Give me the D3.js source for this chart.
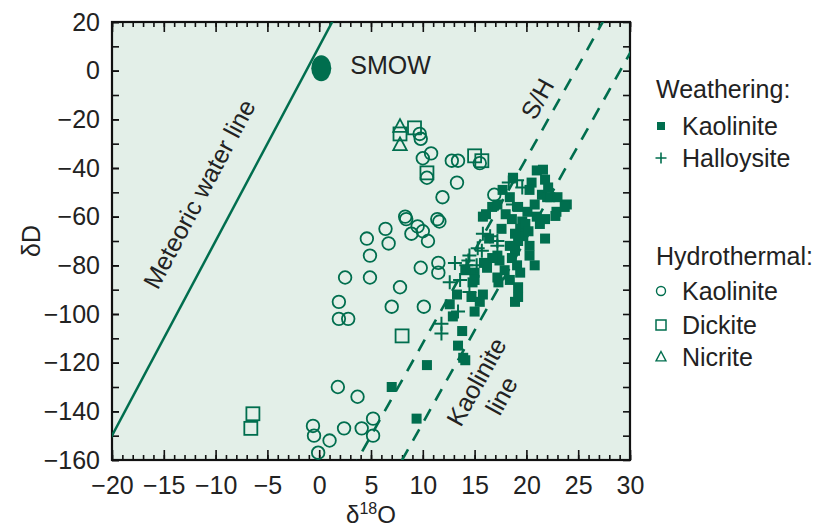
<!DOCTYPE html>
<html>
<head>
<meta charset="utf-8">
<script src="https://d3js.org/d3.v7.min.js"></script>
<style>
  body { margin: 0; background: #fff; }
  text { font-family: "Liberation Sans", Arial, sans-serif; fill: #222; }
</style>
</head>
<body>
<div id="chart"></div>
<script>
// weathering kaolinite (filled squares) [d18O, dD]
const weathKaolinite = [
  [21.6,-40.7],[21.0,-41],[21.8,-44.8],[18.7,-44],[20.5,-46],[20.3,-49],[21.5,-51],[18.4,-52],
  [16.7,-56],[17.2,-55],[15.8,-60],[18.0,-59],[18.6,-61],[19.2,-56],[20.1,-58],[20.8,-55],
  [22.0,-52],[22.3,-52],[23.0,-52],[23.9,-55],[22.9,-58],[21.8,-61],[21.0,-60],[19.6,-62],
  [19.4,-65],[19.7,-68],[19.2,-70],[21.8,-69],[18.9,-74],[18.6,-77],[19.1,-80],[20.8,-80],
  [19.4,-83],[19.2,-89],[17.2,-76],[17.4,-78],[16.7,-77],[16.2,-81],[17.2,-85],[17.3,-87],
  [15.0,-83],[14.8,-87],[15.8,-92],[18.9,-95],[14.1,-82],[15.0,-86],[14.7,-93],[13.3,-92],
  [15.5,-95],[15.0,-99],[13.8,-107],[13.4,-113],[13.9,-118],[14.1,-119],[10.4,-121],[9.4,-143],
  [7.0,-130],[22.8,-59.7],[23.7,-56],[15.9,-79],[12.6,-96],[19.9,-63],[20.2,-66],[18.9,-67],
  [18.4,-72],[17.9,-82],[18.4,-86],[20.3,-72],[21.3,-63],[22.1,-48],[17.7,-49],[16.4,-69],
  [19.2,-93],[20.3,-76],[17.6,-65],[16.1,-59],[12.9,-101]
];
// weathering halloysite (crosses)
const weathHalloysite = [
  [19.1,-45],[19.6,-48],[18.7,-55],[15.8,-67],[16.5,-68],[17.2,-70],[15.7,-74],[17.2,-72],
  [14.5,-76],[14.2,-80],[14.5,-91],[13.1,-79],[14.4,-78],[15.2,-80],[12.6,-87],[13.6,-86],
  [13.4,-99],[11.8,-104],[11.8,-108],[18.3,-46],[15.3,-73]
];
// hydrothermal kaolinite (open circles)
const hydroKaolinite = [
  [9.7,-26],[9.8,-28],[10.0,-36],[10.8,-34],[12.8,-37],[13.4,-37],[15.5,-38],[13.3,-46],
  [11.9,-52],[10.4,-44],[8.3,-60],[11.4,-61],[16.9,-51],[8.4,-61],[6.4,-65],[4.6,-69],
  [6.7,-71],[8.9,-67],[9.5,-64],[10.0,-66],[10.5,-70],[11.6,-62],[4.9,-76],[2.5,-85],
  [4.9,-85],[7.8,-89],[9.8,-81],[11.5,-79],[11.5,-83],[1.9,-95],[1.9,-102],[2.8,-102],
  [7.0,-97],[10.1,-97],[1.8,-130],[3.7,-134],[5.2,-143],[4.1,-147],[5.2,-150],[2.4,-147],
  [1.0,-152],[-0.6,-146],[-0.5,-150],[-0.1,-157]
];
// hydrothermal dickite (open squares)
const hydroDickite = [
  [9.2,-23.5],[7.8,-26],[10.4,-42],[15.0,-35],[15.7,-37],[8.0,-109],[-6.4,-141],[-6.6,-147]
];
// hydrothermal nacrite (open triangles)
const hydroNacrite = [[7.8,-23],[7.8,-30.5]];

const smow = [0.2, 1];
const xTicks = [-20,-15,-10,-5,0,5,10,15,20,25,30];
const yTicks = [20,0,-20,-40,-60,-80,-100,-120,-140,-160];

const green = "#006e4e";
const W = 822, H = 528;
const fs = "25px";

const svg = d3.select("#chart").append("svg")
  .attr("width", W).attr("height", H);

const x = d3.scaleLinear().domain([-20, 30]).range([112, 630]);
const y = d3.scaleLinear().domain([-160, 20]).range([460, 22]);

svg.append("defs").append("clipPath").attr("id", "plotclip")
  .append("rect")
  .attr("x", x(-20)).attr("y", y(20))
  .attr("width", x(30) - x(-20)).attr("height", y(-160) - y(20));

svg.append("rect")
  .attr("x", x(-20)).attr("y", y(20))
  .attr("width", x(30) - x(-20)).attr("height", y(-160) - y(20))
  .attr("fill", "#e3efe8");

const fmt = d => d < 0 ? "\u2212" + Math.abs(d) : String(d);

// axes - minor and major ticks pointing inward
function styleAxis(g) {
  g.select(".domain").remove();
  g.selectAll("line").attr("stroke", "#111").attr("stroke-width", 1.6);
  g.selectAll("text").style("font-size", fs).attr("fill", "#222");
}

svg.append("g").attr("transform", `translate(0,${y(-160)})`)
  .call(d3.axisBottom(x).tickValues(d3.range(-20, 31, 1)).tickSize(-5).tickFormat(""))
  .call(styleAxis);
svg.append("g").attr("transform", `translate(0,${y(-160)})`)
  .call(d3.axisBottom(x).tickValues(xTicks).tickSize(-10).tickPadding(16).tickFormat(fmt))
  .call(styleAxis);
svg.append("g").attr("transform", `translate(0,${y(20)})`)
  .call(d3.axisTop(x).tickValues(d3.range(-20, 31, 1)).tickSize(-5).tickFormat(""))
  .call(styleAxis);
svg.append("g").attr("transform", `translate(0,${y(20)})`)
  .call(d3.axisTop(x).tickValues(xTicks).tickSize(-10).tickFormat(""))
  .call(styleAxis);

svg.append("g").attr("transform", `translate(${x(-20)},0)`)
  .call(d3.axisLeft(y).tickValues(d3.range(-160, 21, 10)).tickSize(-7).tickFormat(""))
  .call(styleAxis);
svg.append("g").attr("transform", `translate(${x(-20)},0)`)
  .call(d3.axisLeft(y).tickValues(yTicks).tickSize(-7).tickPadding(12).tickFormat(fmt))
  .call(styleAxis);
svg.append("g").attr("transform", `translate(${x(30)},0)`)
  .call(d3.axisRight(y).tickValues(d3.range(-160, 21, 10)).tickSize(-7).tickFormat(""))
  .call(styleAxis);

// frame
svg.append("rect")
  .attr("x", x(-20)).attr("y", y(20))
  .attr("width", x(30) - x(-20)).attr("height", y(-160) - y(20))
  .attr("fill", "none").attr("stroke", "#111").attr("stroke-width", 2.2);

const plot = svg.append("g").attr("clip-path", "url(#plotclip)");

// meteoric water line dD = 8 d18O + 10
const seg = d3.line().x(d => x(d[0])).y(d => y(d[1]));
plot.append("path")
  .attr("d", seg([[-25, -190], [5, 50]]))
  .attr("stroke", green).attr("stroke-width", 2.5).attr("fill", "none");

// S/H line and kaolinite line (slope 7.6)
plot.append("path")
  .attr("d", seg([[0, -188], [30, 40]]))
  .attr("stroke", green).attr("stroke-width", 2.6).attr("fill", "none")
  .attr("stroke-dasharray", "13,10").attr("stroke-dashoffset", 4);
plot.append("path")
  .attr("d", seg([[4, -190.4], [32, 22.4]]))
  .attr("stroke", green).attr("stroke-width", 2.6).attr("fill", "none")
  .attr("stroke-dasharray", "13,10").attr("stroke-dashoffset", 8);

// hydrothermal kaolinite circles
plot.selectAll(".hk").data(hydroKaolinite).join("circle")
  .attr("cx", d => x(d[0])).attr("cy", d => y(d[1])).attr("r", 6.3)
  .attr("fill", "none").attr("stroke", green).attr("stroke-width", 1.8);

// dickite squares
plot.selectAll(".hd").data(hydroDickite).join("rect")
  .attr("x", d => x(d[0]) - 6.5).attr("y", d => y(d[1]) - 6.5)
  .attr("width", 13).attr("height", 13)
  .attr("fill", "none").attr("stroke", green).attr("stroke-width", 1.8);

// nacrite triangles
const tri = s => `M0,${-s}L${s * 0.9},${s * 0.7}L${-s * 0.9},${s * 0.7}Z`;
plot.selectAll(".hn").data(hydroNacrite).join("path")
  .attr("transform", d => `translate(${x(d[0])},${y(d[1])})`)
  .attr("d", tri(7.5))
  .attr("fill", "none").attr("stroke", green).attr("stroke-width", 1.8);

// weathering kaolinite filled squares
plot.selectAll(".wk").data(weathKaolinite).join("rect")
  .attr("x", d => x(d[0]) - 5).attr("y", d => y(d[1]) - 5)
  .attr("width", 10).attr("height", 10)
  .attr("fill", green);

// halloysite crosses
const plus = s => `M${-s},0H${s}M0,${-s}V${s}`;
plot.selectAll(".wh").data(weathHalloysite).join("path")
  .attr("transform", d => `translate(${x(d[0])},${y(d[1])})`)
  .attr("d", plus(7))
  .attr("fill", "none").attr("stroke", green).attr("stroke-width", 2);

// SMOW
plot.append("ellipse")
  .attr("cx", x(smow[0])).attr("cy", y(smow[1]))
  .attr("rx", 10).attr("ry", 13).attr("fill", green);
svg.append("text").attr("x", x(smow[0]) + 29).attr("y", y(smow[1]) + 6)
  .style("font-size", fs).text("SMOW");

// line labels
function rotLabel(cx, cy, angle, lines) {
  const t = svg.append("text")
    .attr("transform", `translate(${cx},${cy}) rotate(${angle})`)
    .attr("text-anchor", "middle").style("font-size", fs);
  lines.forEach((s, i) => t.append("tspan").attr("x", 0).attr("dy", i === 0 ? 0 : "1.15em").text(s));
}
rotLabel(207, 198, -62, ["Meteoric water line"]);
rotLabel(545, 103, -61, ["S/H"]);
rotLabel(484, 386, -61, ["Kaolinite", "line"]);

// axis titles
svg.append("text")
  .attr("transform", `translate(40,241) rotate(-90)`)
  .attr("text-anchor", "middle").style("font-size", fs).text("\u03B4D");
const xt = svg.append("text")
  .attr("x", 371).attr("y", 522.5)
  .attr("text-anchor", "middle").style("font-size", "24px");
xt.append("tspan").text("\u03B4");
xt.append("tspan").attr("dy", -9).style("font-size", "16px").text("18");
xt.append("tspan").attr("dy", 9).text("O");

// legend
const lg = svg.append("g");
const lx = 656;
lg.append("text").attr("x", lx).attr("y", 98).style("font-size", fs).text("Weathering:");
lg.append("text").attr("x", lx).attr("y", 265).style("font-size", fs).text("Hydrothermal:");
const items = [
  { y: 126, label: "Kaolinite", kind: "fsq" },
  { y: 158, label: "Halloysite", kind: "plus" },
  { y: 291, label: "Kaolinite", kind: "circle" },
  { y: 325, label: "Dickite", kind: "sq" },
  { y: 357, label: "Nicrite", kind: "tri" }
];
items.forEach(it => {
  const cx = 661;
  if (it.kind === "fsq") {
    lg.append("rect").attr("x", cx - 4).attr("y", it.y - 4).attr("width", 8).attr("height", 8).attr("fill", green);
  } else if (it.kind === "plus") {
    lg.append("path").attr("transform", `translate(${cx},${it.y})`).attr("d", plus(5.5))
      .attr("stroke", green).attr("stroke-width", 1.6).attr("fill", "none");
  } else if (it.kind === "circle") {
    lg.append("circle").attr("cx", cx).attr("cy", it.y).attr("r", 4.5)
      .attr("fill", "none").attr("stroke", green).attr("stroke-width", 1.4);
  } else if (it.kind === "sq") {
    lg.append("rect").attr("x", cx - 5).attr("y", it.y - 5).attr("width", 10).attr("height", 10)
      .attr("fill", "none").attr("stroke", green).attr("stroke-width", 1.5);
  } else {
    lg.append("path").attr("transform", `translate(${cx},${it.y})`).attr("d", tri(5.5))
      .attr("fill", "none").attr("stroke", green).attr("stroke-width", 1.4);
  }
  lg.append("text").attr("x", 682).attr("y", it.y + 9).style("font-size", fs).text(it.label);
});
</script>
</body>
</html>
